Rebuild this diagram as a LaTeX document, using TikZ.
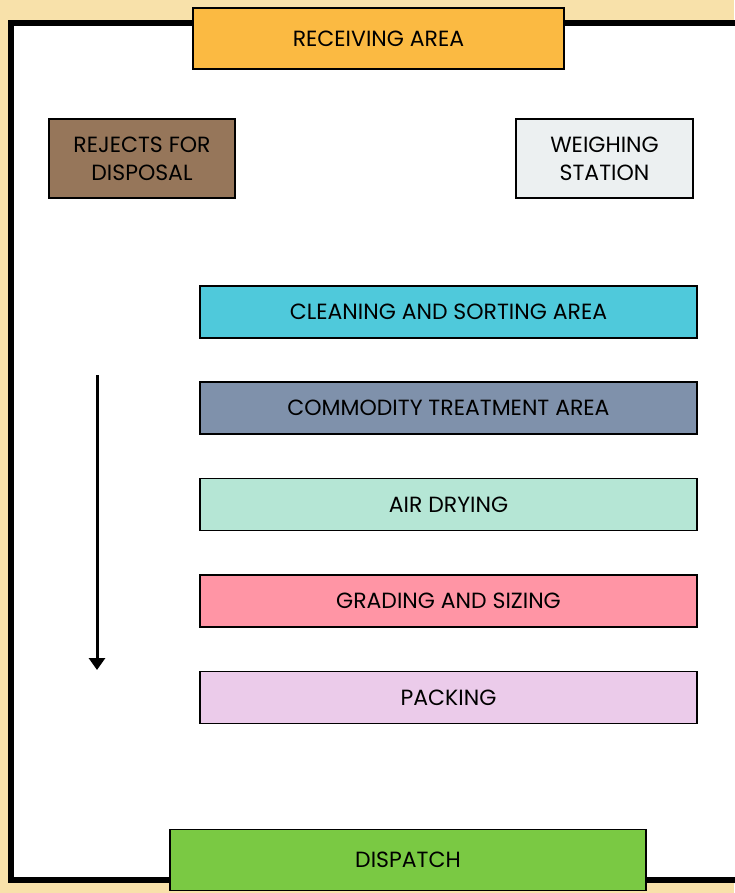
\documentclass[tikz,border=0pt]{standalone}
\usepackage{fontspec}
\setmainfont{Poppins}
\usepackage{tikz}
\usetikzlibrary{arrows.meta,positioning}

\definecolor{pagebg}{RGB}{248,225,170}
\definecolor{recvcol}{RGB}{251,186,66}
\definecolor{rejcol}{RGB}{150,118,90}
\definecolor{weighcol}{RGB}{236,240,241}
\definecolor{cleancol}{RGB}{79,201,219}
\definecolor{treatcol}{RGB}{127,145,171}
\definecolor{drycol}{RGB}{181,230,213}
\definecolor{gradecol}{RGB}{255,149,165}
\definecolor{packcol}{RGB}{235,203,234}
\definecolor{dispcol}{RGB}{122,201,67}

\begin{document}
\begin{tikzpicture}[
    x=1pt, y=-1pt,
    font=\fontsize{22}{28}\selectfont,
    >=Triangle,
    area/.style={draw, line width=1.6pt, minimum width=497pt, minimum height=52pt, inner sep=0pt, align=center},
    corner/.style={draw, line width=1.6pt, minimum width=180pt, minimum height=79pt, inner sep=0pt, align=center},
    gate/.style={draw, line width=1.6pt, minimum height=61pt, inner sep=0pt, align=center}
]
\useasboundingbox (0,0) rectangle (734,893);
\fill[pagebg] (0,0) rectangle (734,893);
\draw[line width=6pt, fill=white] (745,23) -- (10.5,23) -- (10.5,880) -- (745,880);

\node[gate, fill=recvcol, minimum width=371pt] (receiving) at (378.5,38.5) {RECEIVING AREA};
\node[corner, fill=rejcol, minimum width=186pt] (rejects) at (142,158.5) {REJECTS FOR\\DISPOSAL};
\node[corner, fill=weighcol, minimum width=177pt] (weighing) at (604.5,158.5) {WEIGHING\\STATION};

\node[area, fill=cleancol] (cleaning) at (448.5,312) {CLEANING AND SORTING AREA};
\node[area, fill=treatcol] (treatment) at (448.5,408) {COMMODITY TREATMENT AREA};
\node[area, fill=drycol] (drying) at (448.5,504.5) {AIR DRYING};
\node[area, fill=gradecol] (grading) at (448.5,601) {GRADING AND SIZING};
\node[area, fill=packcol] (packing) at (448.5,697.5) {PACKING};

\node[gate, fill=dispcol, minimum width=476pt] (dispatch) at (408,860) {DISPATCH};

\coordinate (flowtop) at (97,375);
\coordinate (flowend) at (97,670);
\draw[->, line width=3pt, arrows={-Triangle[length=12pt,width=16pt]}] (flowtop) -- (flowend);
\end{tikzpicture}
\end{document}
